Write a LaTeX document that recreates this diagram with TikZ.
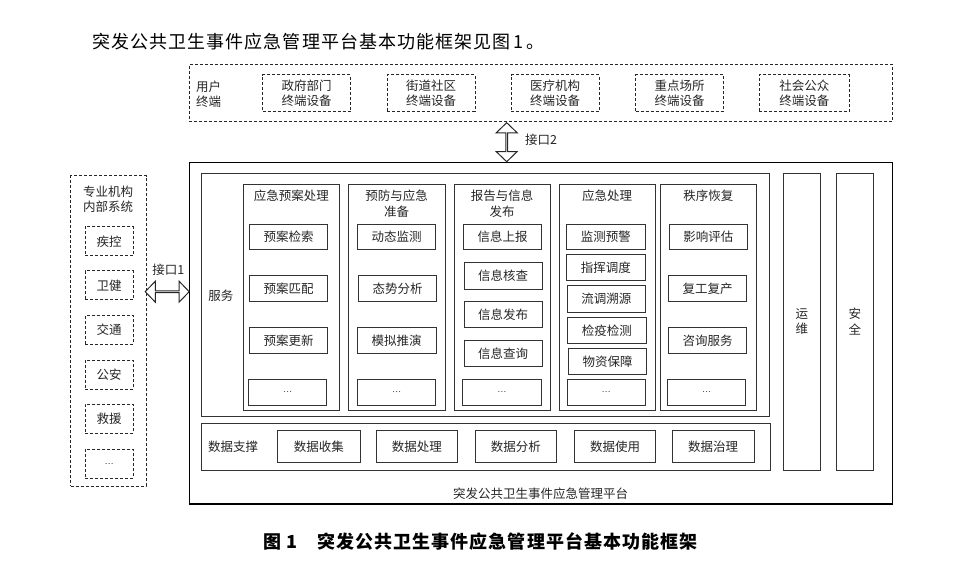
\documentclass[tikz,border=0pt]{standalone}
\usepackage{fontspec}
\setmainfont{Noto Sans CJK SC}
\newfontfamily\bigfont[LetterSpace=6]{Noto Sans CJK SC}
\usetikzlibrary{shapes.arrows}
\newcommand\mybox[7]{\node[#6, minimum width={(#4)-(#2)}, minimum height={(#5)-(#3)}] (#1) at ({((#2)+(#4))/2},{((#3)+(#5))/2}) {#7};}
\tikzset{
  base/.style={inner sep=0pt, outer sep=0pt, text=black!85, font=\fontsize{12.5}{15.5}\selectfont, align=center},
  sbox/.style={base, draw=black!80, line width=1pt},
  dbox/.style={base, draw=black!85, line width=1pt, dash pattern=on 3pt off 2pt},
  platbox/.style={base, draw=black, line width=1.1pt},
  lbl/.style={base},
  dots/.style={font=\fontsize{8}{10}\selectfont},
  barrow/.style={double arrow, draw=black!85, line width=1pt, fill=white, inner sep=0pt,
     minimum width=21pt, double arrow head extend=5.5pt, double arrow tip angle=92}
}
\begin{document}
\begin{tikzpicture}[x=1pt,y=-1pt]
\useasboundingbox (0,0) rectangle (953,561);
% title text
\node[anchor=west, inner sep=0pt, font=\bigfont\fontsize{18}{20}\selectfont] (title) at (92,41.7) {突发公共卫生事件应急管理平台基本功能框架见图\,1\,。};
% user terminal
\mybox{user}{189.3}{64.3}{892.3}{121.7}{dbox}{}
\node[lbl] (userlbl) at (208.7,94.2) {用户\\终端};
\mybox{u1}{262.7}{75}{350.7}{111.7}{dbox}{政府部门\\终端设备}
\mybox{u2}{387.3}{75}{475}{111.7}{dbox}{街道社区\\终端设备}
\mybox{u3}{511}{75}{599}{111.7}{dbox}{医疗机构\\终端设备}
\mybox{u4}{635.7}{75}{723.3}{111.7}{dbox}{重点场所\\终端设备}
\mybox{u5}{759.3}{75}{849.3}{111.7}{dbox}{社会公众\\终端设备}
% platform
\mybox{plat}{189.3}{162.3}{892.5}{504}{platbox}{}
\node[lbl] (platlbl) at (540.5,493.3) {突发公共卫生事件应急管理平台};
% services
\mybox{serv}{201.7}{173.3}{769.3}{416.7}{sbox}{}
\node[lbl] (servlbl) at (220.8,296) {服务};
\mybox{c1}{243.3}{184.3}{339.3}{410}{sbox}{}
\mybox{c2}{348.3}{184.3}{445}{410}{sbox}{}
\mybox{c3}{454}{184.3}{550}{410}{sbox}{}
\mybox{c4}{559}{184.3}{655}{410}{sbox}{}
\mybox{c5}{660}{184.3}{756.7}{410}{sbox}{}
\node[lbl] (h1) at (291.3,196) {应急预案处理};
\node[lbl] (h2) at (396.6,203.5) {预防与应急\\准备};
\node[lbl] (h3) at (502,203.5) {报告与信息\\发布};
\node[lbl] (h4) at (607,196) {应急处理};
\node[lbl] (h5) at (708.3,196) {秩序恢复};
% column 1
\mybox{a1}{249.3}{224.3}{327.7}{250}{sbox}{预案检索}
\mybox{a2}{249.3}{275.7}{327.7}{301.7}{sbox}{预案匹配}
\mybox{a3}{249.3}{327.7}{327.7}{353.3}{sbox}{预案更新}
\mybox{a4}{248.3}{379}{326.7}{405.7}{sbox,dots}{…}
% column 2
\mybox{b1}{357.3}{224.3}{435.7}{250}{sbox}{动态监测}
\mybox{b2}{358.3}{275.7}{436.7}{301.7}{sbox}{态势分析}
\mybox{b3}{357.3}{327.7}{436}{353.3}{sbox}{模拟推演}
\mybox{b4}{357.3}{379}{435.7}{405.7}{sbox,dots}{…}
% column 3
\mybox{d1}{463.3}{224.3}{541.7}{250}{sbox}{信息上报}
\mybox{d2}{464}{262.7}{542.3}{289.3}{sbox}{信息核查}
\mybox{d3}{464}{301.7}{542.3}{327.7}{sbox}{信息发布}
\mybox{d4}{464}{340}{542.3}{366.7}{sbox}{信息查询}
\mybox{d5}{462.7}{379}{541}{405.7}{sbox,dots}{…}
% column 4
\mybox{e1}{566.7}{224.3}{645}{250}{sbox}{监测预警}
\mybox{e2}{566.7}{255}{645}{281}{sbox}{指挥调度}
\mybox{e3}{567}{286}{645.5}{312.3}{sbox}{流调溯源}
\mybox{e4}{567.7}{317.3}{646}{343.3}{sbox}{检疫检测}
\mybox{e5}{568.3}{348.3}{646.7}{374.3}{sbox}{物资保障}
\mybox{e6}{567.3}{379}{645}{405.7}{sbox,dots}{…}
% column 5
\mybox{f1}{669.3}{224.3}{747.3}{250}{sbox}{影响评估}
\mybox{f2}{668.3}{275.7}{746.7}{301.7}{sbox}{复工复产}
\mybox{f3}{668.3}{327.7}{746.7}{353.3}{sbox}{咨询服务}
\mybox{f4}{667.3}{379}{745.7}{405.7}{sbox,dots}{…}
% data support
\mybox{data}{201.2}{423.3}{770}{470.7}{sbox}{}
\node[lbl] (datalbl) at (233,446.7) {数据支撑};
\mybox{g1}{277.7}{430.7}{360}{462.7}{sbox}{数据收集}
\mybox{g2}{376}{430.7}{457.7}{462.7}{sbox}{数据处理}
\mybox{g3}{475}{430.7}{556.7}{462.7}{sbox}{数据分析}
\mybox{g4}{574.3}{430.7}{655.7}{462.7}{sbox}{数据使用}
\mybox{g5}{672.3}{430.7}{754}{462.7}{sbox}{数据治理}
% ops and security
\mybox{ops}{783.5}{173.3}{820.3}{470}{sbox}{运\\维}
\mybox{sec}{836.5}{173.3}{873}{470}{sbox}{安\\全}
% left professional systems
\mybox{left}{70.7}{175.7}{146}{486}{dbox}{}
\node[lbl] (leftlbl) at (108,199.2) {专业机构\\内部系统};
\mybox{l1}{85}{226.7}{133}{256}{dbox}{疾控}
\mybox{l2}{85}{271}{133}{300}{dbox}{卫健}
\mybox{l3}{85}{315.7}{133}{344.3}{dbox}{交通}
\mybox{l4}{85}{360}{133}{389.3}{dbox}{公安}
\mybox{l5}{85}{404.3}{133}{433.3}{dbox}{救援}
\mybox{l6}{85}{449}{133}{478.3}{dbox,dots}{…}
% interfaces
\node[barrow, minimum height=44pt] (arr1) at (167.2,291.7) {};
\node[lbl] (if1) at (168.3,270) {接口1};
\node[barrow, minimum height=39pt, shape border rotate=90] (arr2) at (506.7,142.2) {};
\node[lbl, anchor=west] (if2) at (525,140) {接口2};
% caption
\node[anchor=west, inner sep=0pt, font=\bigfont\bfseries\fontsize{18}{20}\selectfont] (cap) at (263,541.7) {图\hspace{5pt}1\hspace{20pt}突发公共卫生事件应急管理平台基本功能框架};
\end{tikzpicture}
\end{document}
